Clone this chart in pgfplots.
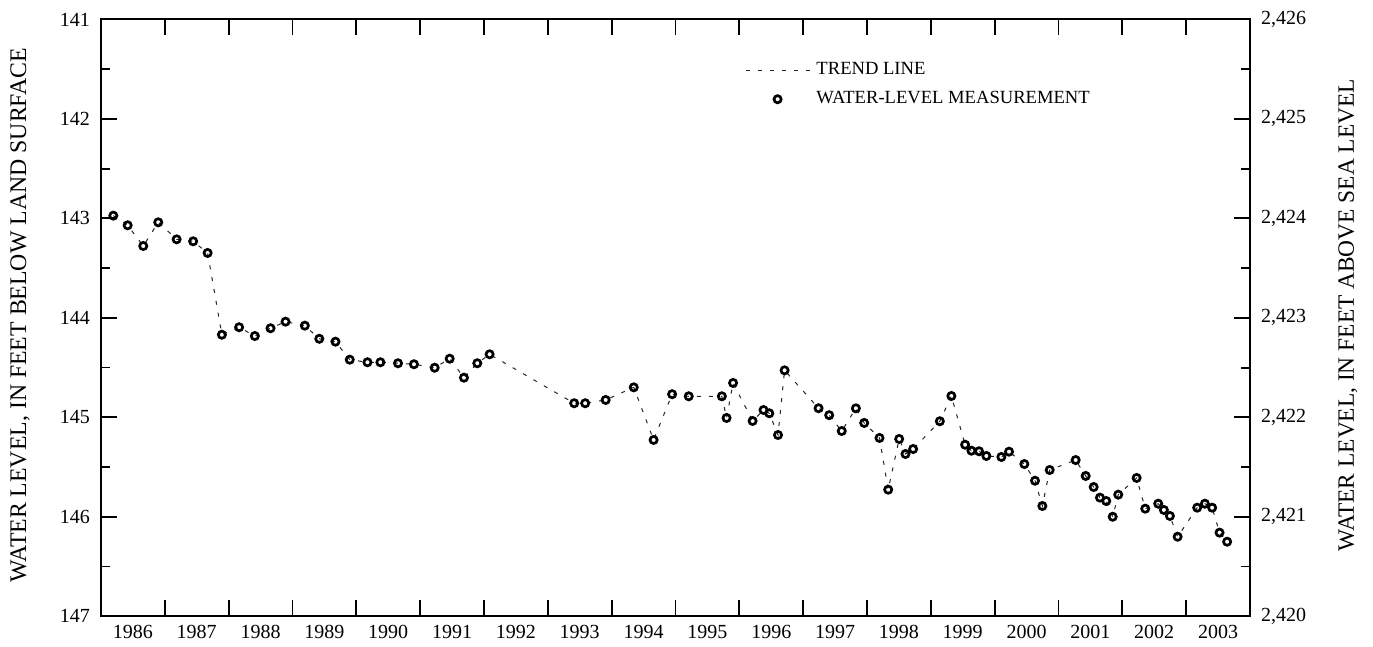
\documentclass[border=0pt]{standalone}
\usepackage{fontspec}
\setmainfont{Liberation Serif}
\usepackage{pgfplots}
\usepackage{pgfplotstable}
\pgfplotsset{compat=1.18}

\pgfplotstableread{
year level
1986.193 142.973
1986.418 143.070
1986.662 143.278
1986.897 143.040
1987.185 143.211
1987.444 143.231
1987.670 143.348
1987.894 144.170
1988.164 144.095
1988.410 144.183
1988.656 144.105
1988.891 144.039
1989.193 144.079
1989.420 144.211
1989.673 144.240
1989.897 144.421
1990.174 144.447
1990.377 144.447
1990.653 144.457
1990.903 144.467
1991.227 144.502
1991.462 144.411
1991.686 144.602
1991.895 144.457
1992.088 144.367
1993.413 144.859
1993.585 144.859
1993.906 144.826
1994.346 144.699
1994.657 145.228
1994.947 144.768
1995.207 144.789
1995.726 144.789
1995.800 145.007
1995.902 144.655
1996.208 145.037
1996.379 144.927
1996.469 144.960
1996.606 145.178
1996.709 144.528
1997.241 144.909
1997.408 144.979
1997.604 145.138
1997.826 144.910
1997.956 145.057
1998.196 145.208
1998.332 145.728
1998.504 145.218
1998.603 145.369
1998.723 145.319
1999.141 145.040
1999.322 144.786
1999.537 145.276
1999.636 145.336
1999.756 145.342
1999.870 145.389
2000.105 145.399
2000.225 145.346
2000.465 145.470
2000.632 145.638
2000.747 145.892
2000.862 145.530
2001.269 145.430
2001.426 145.590
2001.551 145.701
2001.650 145.808
2001.748 145.842
2001.849 146.000
2001.936 145.778
2002.224 145.610
2002.359 145.919
2002.562 145.869
2002.651 145.932
2002.745 145.992
2002.866 146.201
2003.173 145.909
2003.293 145.869
2003.407 145.909
2003.523 146.160
2003.642 146.251
}\wldata

\pgfplotsset{
  common/.style={
    scale only axis, width=574.5pt, height=298.4pt,
    xmin=1986, xmax=2004,
    axis line style={line width=0.95pt},
    every tick/.style={black, line width=0.95pt},
    tick align=inside,
    major tick length=8pt, minor tick length=4.5pt,
    tick label style={font=\fontsize{10}{12}\selectfont},
    /pgf/number format/assume math mode=true,
  },
  trendleg/.style={legend image code/.code={\draw[##1] (0pt,0pt) -- (32pt,0pt);}},
  markleg/.style={legend image code/.code={\draw[mark repeat=2,mark phase=2,##1] plot coordinates {(0pt,0pt)(16pt,0pt)(32pt,0pt)};}},
}

\begin{document}
\begin{tikzpicture}
\begin{axis}[
  common,
  ymin=141, ymax=147, y dir=reverse,
  xtick={1987,1988,...,2003}, xticklabels={},
  xtick pos=both,
  extra x ticks={1986.5,1987.5,...,2003.5},
  extra x tick labels={1986,1987,1988,1989,1990,1991,1992,1993,1994,1995,1996,1997,1998,1999,2000,2001,2002,2003},
  extra x tick style={major tick length=0pt},
  xticklabel style={yshift=-1pt},
  ytick={141,142,...,147}, minor ytick={141.5,142.5,...,146.5},
  ytick pos=left,
  yticklabel style={xshift=-2pt},
  legend style={draw=none, fill=none, at={(rel axis cs:0.555,0.942)}, anchor=north west,
    font=\fontsize{9.3}{11}\selectfont, row sep=3pt, legend cell align=left,
    nodes={inner xsep=3.2pt}},
]
\addplot[black!85, line width=0.5pt, dash pattern=on 2pt off 4pt, trendleg]
  table[x=year,y=level]{\wldata};
\addlegendentry{TREND LINE}
\addplot[only marks, mark=o, mark size=1.8pt,
  mark options={draw=black, fill=white, line width=1.35pt, solid}, markleg]
  table[x=year,y=level]{\wldata};
\addlegendentry{WATER-LEVEL MEASUREMENT}
\end{axis}
\begin{axis}[
  common,
  ymin=2420, ymax=2426,
  axis y line*=right, axis x line=none,
  ytick={2420,2421,...,2426}, minor ytick={2420.5,2421.5,...,2425.5},
  yticklabel style={xshift=2pt},
]
\addplot[draw=none] coordinates {(1986,2420) (2004,2426)};
\end{axis}
\node[rotate=90, font=\fontsize{11.9}{13}\selectfont] at (-40.5pt,150.5pt) {WATER LEVEL, IN FEET BELOW LAND SURFACE};
\node[rotate=90, font=\fontsize{11.7}{13}\selectfont] at (623.5pt,150.5pt) {WATER LEVEL, IN FEET ABOVE SEA LEVEL};
\pgfresetboundingbox
\path (-50.5pt,-15.4pt) rectangle (636pt,308.1pt);
\end{tikzpicture}
\end{document}
